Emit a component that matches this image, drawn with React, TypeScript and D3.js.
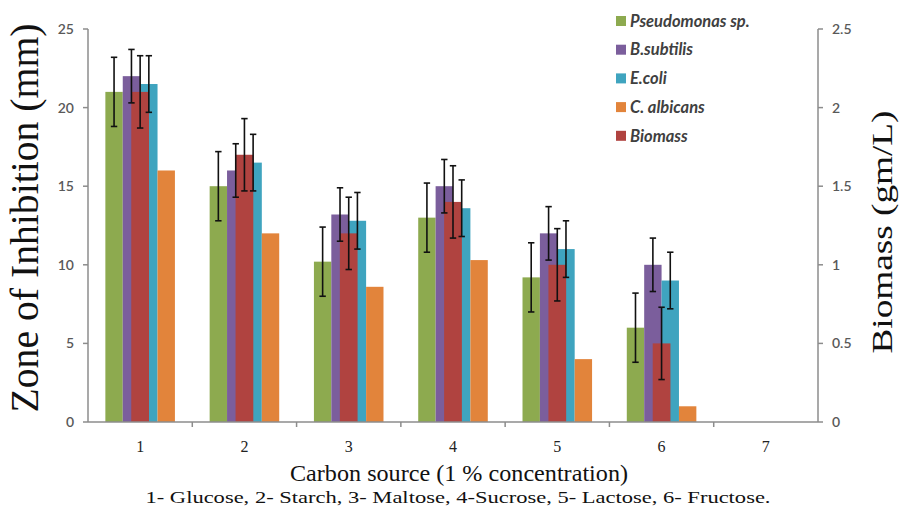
import React from "react";
import * as d3 from "d3";

const categories = ["1", "2", "3", "4", "5", "6", "7"];
const primarySeries = ["Pseudomonas sp.", "B.subtilis", "E.coli", "C. albicans"];
const primaryColors = ["#8DAA4F", "#7B5E9C", "#3FA4BF", "#E2843B"];
// zone of inhibition (mm), per series, per carbon source (7 is empty)
const pseudomonas = [21, 15, 10.2, 13, 9.2, 6];
const bsubtilis = [22, 16, 13.2, 15, 12, 10];
const ecoli = [21.5, 16.5, 12.8, 13.6, 11, 9];
const calbicans = [16, 12, 8.6, 10.3, 4, 1];
const primaryErrors = [2.2, 1.7, 1.8, null];
// biomass (gm/L), secondary axis
const biomass = [2.1, 1.7, 1.2, 1.4, 1.0, 0.5];
const biomassError = 0.23;
const biomassColor = "#B04340";

const leftTicks = [0, 5, 10, 15, 20, 25];
const rightTicks = [0, 0.5, 1, 1.5, 2, 2.5];

const W = 900;
const H = 520;
const plot = { left: 88, right: 818, top: 29, bottom: 422 };

export default function App() {
  const x = d3.scaleBand().domain(categories).range([plot.left, plot.right]).paddingInner(0);
  const y = d3.scaleLinear().domain([0, 25]).range([plot.bottom, plot.top]);
  const y2 = d3.scaleLinear().domain([0, 2.5]).range([plot.bottom, plot.top]);
  const groupW = x.bandwidth() * 0.667;
  const inner = d3.scaleBand().domain(primarySeries).range([-groupW / 2, groupW / 2]);
  const bw = inner.bandwidth();
  const primaryData = [pseudomonas, bsubtilis, ecoli, calbicans];

  const axisColor = "#8C8C8C";
  const tickFont = "Lato, 'Open Sans', sans-serif";
  const serif = "'Liberation Serif', 'Times New Roman', serif";

  const bars: any[] = [];
  const errs: any[] = [];
  primaryData.forEach((vals, si) => {
    vals.forEach((v, ci) => {
      const cx = (x(categories[ci]) as number) + x.bandwidth() / 2;
      const bx = cx + (inner(primarySeries[si]) as number);
      bars.push(
        <rect key={`b${si}-${ci}`} x={bx} y={y(v)} width={bw} height={y(0) - y(v)} fill={primaryColors[si]} />
      );
      const e = primaryErrors[si];
      if (e != null) {
        errs.push({ key: `e${si}-${ci}`, x: bx + bw / 2, y1: y(v + e), y2: y(v - e) });
      }
    });
  });
  biomass.forEach((v, ci) => {
    const cx = (x(categories[ci]) as number) + x.bandwidth() / 2;
    const rw = bw * 1.02;
    bars.push(
      <rect key={`bio${ci}`} x={cx - rw / 2} y={y2(v)} width={rw} height={y2(0) - y2(v)} fill={biomassColor} />
    );
    errs.push({ key: `ebio${ci}`, x: cx, y1: y2(v + biomassError), y2: y2(v - biomassError) });
  });

  const legendNames = [...primarySeries, "Biomass"];
  const legendColors = [...primaryColors, biomassColor];

  return (
    <div style={{ position: "absolute", left: 0, top: 0 }}>
      <svg width={W} height={H} style={{ display: "block", background: "#fff" }}>
        {bars}
        {errs.map((e) => (
          <g key={e.key} stroke="#111" strokeWidth={1.6}>
            <line x1={e.x} x2={e.x} y1={e.y1} y2={e.y2} />
            <line x1={e.x - 3.2} x2={e.x + 3.2} y1={e.y1} y2={e.y1} />
            <line x1={e.x - 3.2} x2={e.x + 3.2} y1={e.y2} y2={e.y2} />
          </g>
        ))}

        {/* axes */}
        <g stroke={axisColor} strokeWidth={1.5} fill="none">
          <line x1={plot.left} x2={plot.left} y1={plot.top} y2={plot.bottom} />
          <line x1={plot.right} x2={plot.right} y1={plot.top} y2={plot.bottom} />
          <line x1={plot.left} x2={plot.right} y1={plot.bottom} y2={plot.bottom} />
          {leftTicks.map((t) => (
            <line key={`lt${t}`} x1={plot.left - 5} x2={plot.left} y1={y(t)} y2={y(t)} />
          ))}
          {rightTicks.map((t) => (
            <line key={`rt${t}`} x1={plot.right} x2={plot.right + 5} y1={y2(t)} y2={y2(t)} />
          ))}
          {categories.slice(1).map((c) => (
            <line key={`xt${c}`} x1={x(c) as number} x2={x(c) as number} y1={plot.bottom} y2={plot.bottom + 5} />
          ))}
        </g>

        {leftTicks.map((t) => (
          <text key={`ll${t}`} x={plot.left - 14} y={y(t)} dy="0.35em" textAnchor="end"
            fontFamily={tickFont} fontSize={14} fontWeight={600} fill="#595959">{t}</text>
        ))}
        {rightTicks.map((t) => (
          <text key={`rl${t}`} x={plot.right + 14} y={y2(t)} dy="0.35em" textAnchor="start"
            fontFamily={tickFont} fontSize={14} fontWeight={600} fill="#595959">{t}</text>
        ))}
        {categories.map((c) => (
          <text key={`xl${c}`} x={(x(c) as number) + x.bandwidth() / 2} y={452} textAnchor="middle"
            fontFamily={serif} fontSize={16} fill="#222">{c}</text>
        ))}

        {/* titles */}
        <text transform="translate(38,218) rotate(-90)" textAnchor="middle" fontFamily={serif}
          fontSize={39} fill="#111" textLength={389} lengthAdjust="spacingAndGlyphs">Zone of Inhibition (mm)</text>
        <text transform="translate(892,232) rotate(-90)" textAnchor="middle" fontFamily={serif}
          fontSize={30} fill="#111" textLength={243} lengthAdjust="spacingAndGlyphs">Biomass (gm/L)</text>
        <text x={459} y={481} textAnchor="middle" fontFamily={serif} fontSize={24} fill="#111"
          textLength={338} lengthAdjust="spacingAndGlyphs">Carbon source (1 % concentration)</text>
        <text x={458} y={503} textAnchor="middle" fontFamily={serif} fontSize={16} fill="#111"
          textLength={625} lengthAdjust="spacingAndGlyphs">1- Glucose, 2- Starch, 3- Maltose, 4-Sucrose, 5- Lactose, 6- Fructose.</text>

        {/* legend */}
        {legendNames.map((n, i) => (
          <g key={n} transform={`translate(616,${21 + i * 28.7})`}>
            <rect x={0} y={-5} width={10} height={10} fill={legendColors[i]} />
            <text x={14} y={0} dy="0.35em" fontFamily={tickFont} fontSize={16.5} fontStyle="italic"
              fontWeight={700} fill="#404040">{n}</text>
          </g>
        ))}
      </svg>
    </div>
  );
}
